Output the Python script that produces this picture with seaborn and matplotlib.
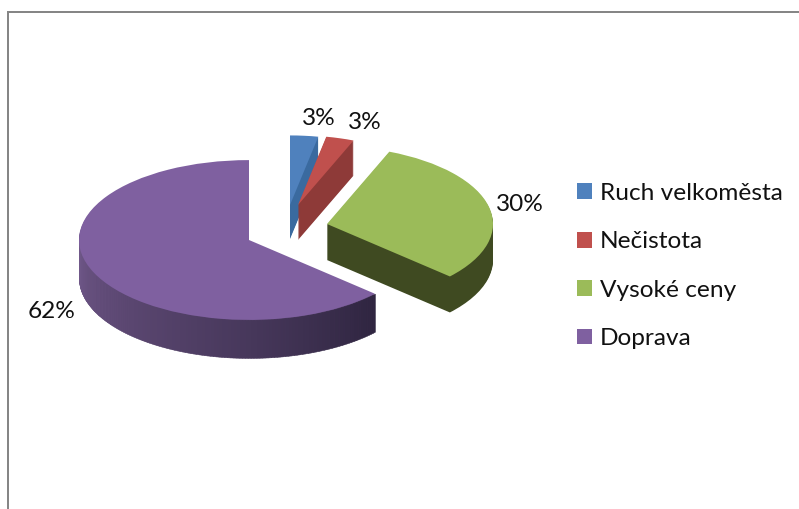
import numpy as np
import matplotlib
matplotlib.use("Agg")
import matplotlib.pyplot as plt
import seaborn as sns

categories = ["Ruch velkoměsta", "Nečistota", "Vysoké ceny", "Doprava"]
values = [3, 3, 30, 62]

top_colors = ["#4F81BD", "#C0504D", "#9BBB59", "#7F60A0"]
side_colors = ["#3A6A9F", "#8E3A38", "#3F4A21", "#5A4670"]
rim_palette = sns.blend_palette(["#705889", "#5A4670", "#46375A", "#2F2540"], 140)

# layout, in reference pixels
W, H = 799, 509
LEFT, TOP = 8, 12
K = 0.47
centers = [(290, 205), (298, 205), (327, 224), (249, 240)]
radii = [148, 148, 166, 170]
depths = [34, 35, 36, 38]
label_pos = [(319, 118), (365, 122), (520, 204), (52, 311)]


def yd(py):
    return (H - py) / K


sns.set_theme(style="white")
plt.rcParams["font.family"] = ["Lato", "DejaVu Sans"]

fig = plt.figure(figsize=(W / 100, H / 100), dpi=100)
ax = fig.add_axes([LEFT / W, 0, (W - LEFT) / W, (H - TOP) / H])


def place(wedges, dy=0.0, zoff=0):
    for i, w in enumerate(wedges):
        cx, cy = centers[i]
        w.set_center((cx, yd(cy + dy)))
        w.set_radius(radii[i])
        w.set_zorder(2 * i + 1 + zoff)
        w.set_linewidth(0)


# extruded sides
for d in range(max(depths), 0, -1):
    wedges, _ = ax.pie(values, colors=side_colors, startangle=90, counterclock=False, frame=True)
    place(wedges, dy=d)
    for i, w in enumerate(wedges):
        if d > depths[i]:
            w.set_visible(False)

# shaded outer rim of the largest slice
fractions = np.cumsum(values) / np.sum(values)
start = fractions[2] * 360
thetas = np.linspace(start, 270, len(rim_palette) + 1)
cx, cy = centers[3]
r = radii[3]
for i, col in enumerate(rim_palette[::-1]):
    t = np.radians(np.linspace(thetas[i], thetas[i + 1], 4))
    xs = cx + r * np.sin(t)
    ys = yd(cy) + r * np.cos(t)
    ax.fill_between(xs, ys, ys - depths[3] / K, color=col, linewidth=0.4, zorder=7.5)

# top faces
tops, _ = ax.pie(values, colors=top_colors, startangle=90, counterclock=False, frame=True)
place(tops, zoff=1)

for val, (px, py) in zip(values, label_pos):
    ax.text(px, yd(py), f"{val}%", ha="center", va="center", fontsize=17.6, color="#111111", zorder=20)

ax.set_aspect("auto")
ax.set_xlim(LEFT, W)
ax.set_ylim(0, (H - TOP) / K)
ax.set_xticks([])
ax.set_yticks([])
for side in ("right", "bottom"):
    ax.spines[side].set_visible(False)
for side in ("top", "left"):
    ax.spines[side].set_visible(True)
    ax.spines[side].set_color("#868686")
    ax.spines[side].set_linewidth(1.44)

ax.legend(
    tops, categories, loc="upper left",
    bbox_to_anchor=(577 / W, 1 - 183 / H), bbox_transform=fig.transFigure,
    frameon=False, fontsize=17.6, handlelength=0.62, handleheight=0.62,
    handletextpad=0.33, labelspacing=1.12, borderpad=0, borderaxespad=0,
    labelcolor="#111111",
)

fig.savefig("out.png", dpi=100)
